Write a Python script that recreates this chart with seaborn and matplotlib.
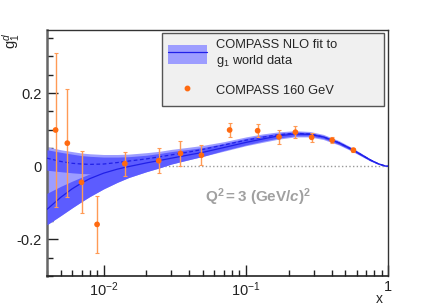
import numpy as np
import pandas as pd
import matplotlib
matplotlib.use("Agg")
import matplotlib.pyplot as plt
import seaborn as sns
from matplotlib.lines import Line2D
from matplotlib.patches import Patch
from matplotlib.ticker import MultipleLocator, LogLocator, NullFormatter

# COMPASS 160 GeV data points
x_data = [0.0046, 0.00556, 0.0070, 0.0090, 0.0141, 0.0244, 0.0347, 0.0487,
          0.0769, 0.121, 0.171, 0.223, 0.290, 0.404, 0.570]
g1_data = [0.099, 0.063, -0.044, -0.159, 0.007, 0.015, 0.035, 0.030,
           0.099, 0.097, 0.080, 0.093, 0.079, 0.071, 0.044]
g1_err = [0.210, 0.148, 0.085, 0.077, 0.033, 0.034, 0.034, 0.027,
          0.018, 0.018, 0.018, 0.017, 0.012, 0.008, 0.005]

# NLO fit curves and bands
x_fit = [0.004, 0.005, 0.006, 0.007, 0.008, 0.01, 0.0125, 0.015, 0.02, 0.025,
         0.03, 0.04, 0.05, 0.07, 0.1, 0.13, 0.17, 0.22, 0.28, 0.35, 0.45,
         0.55, 0.65, 0.75, 0.85, 0.95, 1.0]
fit_solid = [-0.118, -0.085, -0.062, -0.046, -0.034, -0.019, -0.008, -0.001, 0.009, 0.016,
             0.022, 0.031, 0.038, 0.051, 0.065, 0.074, 0.083, 0.088, 0.087, 0.080, 0.064,
             0.047, 0.031, 0.017, 0.007, 0.001, 0.0]
fit_dashed = [0.022, 0.013, 0.008, 0.006, 0.005, 0.006, 0.010, 0.014, 0.020, 0.026,
              0.031, 0.039, 0.046, 0.058, 0.071, 0.079, 0.086, 0.090, 0.088, 0.080, 0.064,
              0.047, 0.031, 0.017, 0.007, 0.001, 0.0]
light_hi = [0.053, 0.045, 0.040, 0.036, 0.034, 0.032, 0.032, 0.033, 0.037, 0.041,
            0.046, 0.052, 0.057, 0.067, 0.080, 0.088, 0.094, 0.097, 0.095, 0.087, 0.070,
            0.052, 0.035, 0.020, 0.009, 0.002, 0.0]
light_lo = [-0.160, -0.135, -0.114, -0.097, -0.083, -0.062, -0.044, -0.031, -0.015, -0.004,
            0.006, 0.018, 0.027, 0.041, 0.056, 0.065, 0.074, 0.080, 0.080, 0.073, 0.058,
            0.042, 0.027, 0.014, 0.005, 0.000, 0.0]
darkA_hi = [0.045, 0.038, 0.033, 0.029, 0.027, 0.025, 0.025, 0.026, 0.030, 0.035,
            0.040, 0.046, 0.051, 0.062, 0.076, 0.084, 0.090, 0.094, 0.092, 0.084, 0.067,
            0.050, 0.033, 0.019, 0.008, 0.001, 0.0]
darkA_lo = [-0.011, -0.015, -0.018, -0.020, -0.021, -0.019, -0.012, -0.006, 0.004, 0.012,
            0.020, 0.030, 0.037, 0.049, 0.063, 0.072, 0.080, 0.085, 0.084, 0.077, 0.061,
            0.044, 0.029, 0.015, 0.006, 0.0, 0.0]
darkB_hi = [-0.074, -0.055, -0.041, -0.030, -0.021, -0.010, -0.001, 0.006, 0.015, 0.022,
            0.028, 0.036, 0.043, 0.055, 0.069, 0.078, 0.086, 0.091, 0.090, 0.083, 0.067,
            0.050, 0.034, 0.019, 0.008, 0.001, 0.0]
darkB_lo = [-0.160, -0.135, -0.114, -0.097, -0.083, -0.062, -0.044, -0.031, -0.015, -0.004,
            0.006, 0.018, 0.027, 0.043, 0.058, 0.068, 0.077, 0.083, 0.083, 0.076, 0.060,
            0.044, 0.028, 0.015, 0.006, 0.0, 0.0]

LIGHT = '#9d9dff'
DARK = '#5c5cff'
LINE = '#2020e8'
ORANGE = '#ff6a10'
ERR = '#ff9a55'

sns.set_theme(style="ticks")
plt.rcParams['font.family'] = ['Liberation Sans', 'DejaVu Sans']
plt.rcParams['mathtext.fontset'] = 'custom'
plt.rcParams['mathtext.rm'] = 'Liberation Sans'
plt.rcParams['mathtext.it'] = 'Liberation Sans:italic'
plt.rcParams['mathtext.bf'] = 'Liberation Sans:bold'
plt.rcParams['mathtext.bfit'] = 'Liberation Sans:bold:italic'

fig = plt.figure(figsize=(4.27, 3.07), dpi=100)
ax = fig.add_axes([0.110, 0.101, 0.799, 0.801])

df_fit = pd.DataFrame({'x': x_fit, 'solid': fit_solid, 'dashed': fit_dashed})
df_pts = pd.DataFrame({'x': x_data, 'g1': g1_data, 'err': g1_err})

ax.axhline(0, color='#999999', ls=':', lw=1.0, zorder=1)
ax.fill_between(x_fit, light_lo, light_hi, color=LIGHT, lw=0, zorder=2)
ax.fill_between(x_fit, darkA_lo, darkA_hi, color=DARK, lw=0, zorder=3)
ax.fill_between(x_fit, darkB_lo, darkB_hi, color=DARK, lw=0, zorder=3)
sns.lineplot(data=df_fit, x='x', y='solid', ax=ax, color=LINE, lw=0.9,
             sort=False, estimator=None, zorder=4)
sns.lineplot(data=df_fit, x='x', y='dashed', ax=ax, color=LINE, lw=0.9,
             ls=(0, (3, 2)), sort=False, estimator=None, zorder=4)

ax.errorbar(df_pts['x'], df_pts['g1'], yerr=df_pts['err'], fmt='none',
            ecolor=ERR, elinewidth=1.0, capsize=1.5, capthick=0.8, zorder=5)
sns.scatterplot(data=df_pts, x='x', y='g1', ax=ax, color=ORANGE, s=17,
                edgecolor='none', zorder=6)

ax.set_xscale('log')
ax.set_xlim(0.004, 1.0)
ax.set_ylim(-0.30, 0.372)

ax.set_xticks([0.01, 0.1, 1.0], labels=['$10^{-2}$', '$10^{-1}$', '1'])
ax.xaxis.set_minor_locator(LogLocator(base=10, subs=np.arange(2, 10)))
ax.xaxis.set_minor_formatter(NullFormatter())
ax.set_yticks([-0.2, 0.0, 0.2], labels=['-0.2', '0', '0.2'])
ax.yaxis.set_minor_locator(MultipleLocator(0.05))

ax.tick_params(which='both', direction='in', top=False, right=False,
               colors='#222222', labelsize=10.5)
ax.tick_params(which='major', length=8, width=1.0)
ax.tick_params(which='minor', length=4, width=1.0)
ax.tick_params(axis='x', pad=3)

ax.spines['left'].set_linewidth(1.8)
ax.spines['left'].set_color('#666666')
ax.spines['bottom'].set_linewidth(1.2)
ax.spines['bottom'].set_color('#222222')
for side in ['top', 'right']:
    ax.spines[side].set_linewidth(1.0)
    ax.spines[side].set_color('#333333')

ax.set_xlabel('x', fontsize=10)
ax.xaxis.set_label_coords(0.985, -0.123)
ax.xaxis.label.set_ha('right')
ax.xaxis.label.set_va('bottom')
ax.set_ylabel(r'$\mathrm{g}_1^d$', loc='top', fontsize=10.5)
ax.yaxis.set_label_coords(-0.074, 0.99)

ax.text(0.62, 0.32, r'$\mathbf{Q^2 = 3\ (GeV/}\mathbfit{c}\mathbf{)^2}$',
        transform=ax.transAxes, ha='center', va='center', fontsize=11,
        color='#a0a0a0')

fit_handle = (Patch(facecolor=LIGHT, edgecolor='none'), Line2D([], [], color=LINE, lw=0.9))
pt_handle = Line2D([], [], marker='o', ls='none', color=ORANGE, markersize=3.2)
leg = ax.legend([fit_handle, pt_handle],
                ['COMPASS NLO fit to\n' + r'$\mathrm{g}_1$' + ' world data', 'COMPASS 160 GeV'],
                loc='upper left', bbox_to_anchor=(0.337, 0.0, 0.651, 0.988),
                mode='expand', fontsize=9.3,
                handlelength=3.0, handleheight=1.9, labelspacing=0.9,
                borderpad=0.45, borderaxespad=0.0, handletextpad=0.7, fancybox=False,
                framealpha=1.0, facecolor='#f0f0f0', edgecolor='#555555')
leg.get_frame().set_linewidth(1.0)

plt.savefig('out.png', dpi=100)
